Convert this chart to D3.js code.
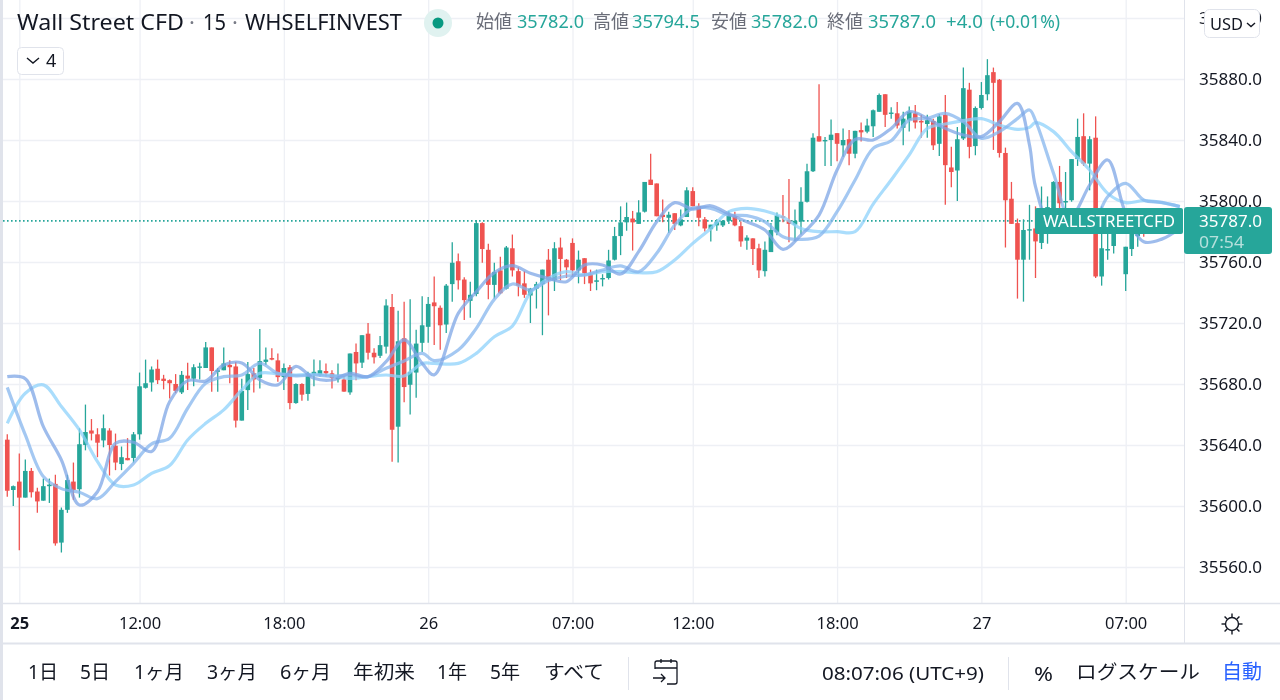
<!DOCTYPE html>
<html lang="ja"><head><meta charset="utf-8">
<script src="https://cdn.jsdelivr.net/npm/d3@7"></script>
<style>
html,body{margin:0;padding:0;background:#fff;overflow:hidden}
svg{display:block;filter:blur(0.45px)}
text{font-family:"Noto Sans","Noto Sans CJK JP",sans-serif}
</style></head><body><svg id="c" width="1280" height="700"></svg>
<script>
const opens=[35643.5,35610.5,35616,35605.5,35623,35609.5,35603.5,35613,35614.5,35576,
35597.5,35616,35611,35640,35649.5,35647,35643,35649.5,35639.5,35627.5,
35631.5,35631.5,35647,35677.5,35681,35690,35683.5,35682.5,35680,35674.5,
35685.5,35683.5,35691,35690.5,35704,35688,35689,35692.5,35691.5,35656,
35676,35687,35684,35694.5,35697,35695.5,35684.5,35691,35667.5,35680,
35673.5,35686.5,35686,35688.5,35687,35683.5,35683,35674.5,35701,35694,
35713,35700.5,35698.5,35704.5,35730.5,35652,35710,35679.5,35687.5,35707,
35717.5,35733.5,35730,35719,35745.5,35760.5,35748.5,35734.5,35739,35785.5,
35768,35745,35754.5,35742.5,35769,35754,35746,35738,35742.5,35745.5,
35761.5,35748,35769.5,35761.5,35772.5,35754.5,35762.5,35752,35747,35749,
35749.5,35761.5,35777,35786,35788.5,35785,35793,35814,35811.5,35791,
35789,35792,35784,35789.5,35806.5,35796.5,35788,35781.5,35784,35784,
35787,35790,35783.5,35774,35775.5,35769,35754,35766.5,35779.5,35790,
35787.5,35784.5,35786.5,35799.5,35819.5,35842.5,35839.5,35840,35844.5,35836.5,
35840.5,35831,35846.5,35845.5,35849,35858.5,35870,35857.5,35857.5,35848,
35853,35857.5,35852.5,35850.5,35852.5,35837.5,35856.5,35822,35820,35841,
35873,35836,35861,35870,35884.5,35879.5,35831.5,35801.5,35785.5,35761.5,
35781,35782,35772.5,35792,35789.5,35812.5,35799,35800.5,35827.5,35842.5,
35824.5,35841.5,35750.5,35767.5,35770.5,35782,35752,35768.5,35777,35783,
35782];
const highs=[35647,35613.5,35634.5,35630.5,35625,35612,35618,35618,35620.5,35599,
35620.5,35628.5,35651,35666.5,35657,35651,35660,35651,35647.5,35639,
35644.5,35648.5,35687.5,35696,35691.5,35696,35686,35683,35686.5,35688.5,
35694,35693,35694,35707.5,35704,35690.5,35704,35695.5,35694.5,35683.5,
35694.5,35690.5,35716,35704,35703.5,35700,35693.5,35692.5,35680.5,35680.5,
35688,35696,35695.5,35693.5,35689,35693.5,35685,35700,35706.5,35712,
35720,35703.5,35711.5,35735.5,35739,35728,35734,35735.5,35715.5,35737.5,
35737,35750.5,35731.5,35745.5,35773,35765.5,35750,35747,35787.5,35786,
35772,35759.5,35763.5,35770.5,35778,35756.5,35754,35743,35747,35755,
35768.5,35773,35776,35762,35775.5,35767.5,35762.5,35755,35755,35752,
35768,35783,35796.5,35799,35793.5,35800.5,35812.5,35831,35811.5,35801,
35793,35792,35794.5,35809,35809,35798.5,35789.5,35784.5,35788,35787.5,
35793.5,35793,35786.5,35777.5,35775.5,35772,35773.5,35785.5,35792.5,35804,
35814.5,35794.5,35809,35824.5,35844.5,35876.5,35842,35853.5,35844.5,35847.5,
35846.5,35846,35851.5,35854,35860,35870.5,35870,35861.5,35865,35858.5,
35862,35863,35856.5,35856.5,35854,35857,35869.5,35835.5,35848.5,35887.5,
35877.5,35862,35878,35893,35887.5,35880,35835,35812.5,35788.5,35788,
35797.5,35796.5,35809.5,35803,35813,35823,35819,35827.5,35854,35857.5,
35842.5,35855.5,35796.5,35789.5,35783,35790,35770,35783,35787.5,35785,
35794.5];
const lows=[35606,35600,35571,35605.5,35605.5,35595.5,35603.5,35602,35574,35569.5,
35595.5,35604,35605.5,35636.5,35643,35632,35638.5,35620,35623.5,35623.5,
35630,35628.5,35643.5,35677,35675,35680,35676.5,35670.5,35674,35673.5,
35676,35678.5,35683,35690.5,35675,35675,35689,35680.5,35651.5,35656,
35663,35674.5,35677,35692.5,35695.5,35681.5,35676,35663.5,35667,35669,
35669,35678.5,35685,35685,35677,35681,35675,35673,35682.5,35690.5,
35696,35693.5,35697,35700,35629,35628.5,35668,35660,35671,35701,
35707,35705.5,35702.5,35713.5,35734,35742,35722,35723.5,35737.5,35759.5,
35735.5,35736,35739,35742,35750.5,35737.5,35736.5,35720,35729.5,35712,
35725,35741,35748,35749.5,35750.5,35746,35745.5,35741,35741.5,35744,
35748.5,35761,35764.5,35780.5,35767.5,35785,35792.5,35810.5,35790,35786,
35779,35781,35783.5,35789.5,35796.5,35783.5,35780,35773.5,35780.5,35783,
35785,35783.5,35770,35768,35758,35749.5,35750.5,35766.5,35777.5,35786,
35773,35773.5,35778,35799,35819,35839,35823,35823,35826,35829,
35823.5,35828,35839,35844.5,35842,35858.5,35848.5,35854,35847.5,35836.5,
35845.5,35847.5,35841.5,35841.5,35833.5,35829.5,35797.5,35809,35800,35840,
35828,35830,35860,35866,35833.5,35828.5,35769.5,35785,35736,35734,
35761.5,35749.5,35768.5,35772,35783,35792,35792,35799.5,35823,35823,
35807,35749.5,35744.5,35761.5,35765.5,35779,35741,35764,35770,35776.5,
35782];
const closes=[35610,35613,35605.5,35623,35609,35603,35613,35614,35575.5,35597.5,
35617,35610.5,35640.5,35648.5,35647.5,35641.5,35651,35640,35628.5,35632,
35630,35647,35678.5,35680.5,35689.5,35682.5,35682,35680.5,35675.5,35686,
35683.5,35691,35691.5,35704,35688.5,35689,35693.5,35691,35656,35675.5,
35686.5,35683,35695,35696,35696,35684.5,35690.5,35667.5,35680,35673,
35687,35688,35689,35687,35684,35684,35675,35700,35693.5,35712,
35700.5,35697.5,35705.5,35731.5,35650,35708,35678,35688,35706.5,35718.5,
35732.5,35731,35718.5,35744.5,35759.5,35748,35735,35738.5,35785.5,35768.5,
35745,35753.5,35739.5,35769.5,35754.5,35744.5,35738.5,35742.5,35745.5,35755,
35748,35769,35762,35756.5,35754.5,35761.5,35752.5,35746,35748,35749.5,
35761,35777,35786,35789.5,35786,35792.5,35812.5,35810.5,35790,35789.5,
35791,35785,35788,35807,35796.5,35789,35782,35784.5,35786.5,35787,
35790.5,35784,35773.5,35776,35768.5,35754.5,35768,35781,35790.5,35789.5,
35785,35787,35799.5,35819.5,35841.5,35839,35840,35843.5,35837.5,35840,
35831,35846,35845,35849.5,35859.5,35869.5,35856.5,35858,35849.5,35854,
35858.5,35851.5,35851.5,35853,35836.5,35855.5,35823.5,35819,35840.5,35874,
35835.5,35861,35869.5,35882.5,35877.5,35831.5,35800.5,35785,35761.5,35781,
35781.5,35773.5,35792,35796,35812.5,35798.5,35800,35827.5,35842,35824.5,
35840.5,35750.5,35769,35768.5,35779,35786,35770,35779,35781,35779,
35787];
const maBars=[0,3,6,9,12,15,18,21,24,27,30,33,36,39,42,45,48,51,
54,57,60,63,66,69,71,75,78,81,84,87,90,93,96,99,102,
105,108,111,114,117,120,123,126,129,132,135,138,141,144,147,
150,153,156,159,162,165,168,170,171,174,177,180,183,186,189,192,195];
const maFast=[35684.8,35683.5,35652,35630.2,35600.7,35609.4,35641.1,35641.8,35635.7,35668.4,35682.2,35682,35692.5,35693.8,35682.7,35679.4,35691.6,35683.7,
35682.6,35687,35684.8,35694.6,35708.9,35693.5,35686,35726.3,35740.5,35753,35757.6,35752.6,35749.3,35747.1,35758,35758,35752.1,
35766.8,35786.4,35798.9,35794.7,35796.9,35791.5,35786.4,35781,35768.3,35777.7,35790.8,35820.3,35840.4,35840,35847.6,
35858.6,35854.2,35847.6,35843.3,35842.2,35852,35864,35836.7,35809.4,35779.9,35788.6,35810.5,35826.9,35791.9,35773.3,35775,35782];
const maMid=[35677.8,35646.6,35619.3,35611.4,35609,35604.8,35616,35628,35640.7,35644.4,35664.1,35680.5,35684.8,35685.9,35693.6,35687,35685.3,35685.9,
35685.2,35685.9,35684.8,35690.3,35695.1,35700.1,35695.3,35702.3,35716.5,35735.5,35745.6,35741.6,35747.8,35750.8,35751.5,35754.8,35757.4,
35753.6,35765.7,35784.2,35795.2,35795.2,35790.8,35790.4,35786.4,35776.6,35774.8,35777,35793,35813.8,35834.5,35839.5,
35853.1,35854.2,35857.5,35852,35841.1,35845.5,35854,35859.7,35852.7,35818.1,35785.3,35782,35802.8,35811.6,35800.7,35799.1,35796.3];
const maSlow=[35654.2,35673.9,35679.4,35665.2,35649.9,35629.1,35613.8,35613.8,35621.4,35626.5,35643.3,35654.2,35663,35676.1,35687,35686.6,35685.9,35686.4,
35685.5,35683.7,35684.8,35685.9,35685.2,35693.5,35693.5,35693.5,35700.1,35711,35718,35739.9,35749.3,35753.7,35751.5,35753.7,35753.7,
35753,35753.6,35761.3,35772.2,35782,35793,35795.2,35793.4,35789.3,35782,35779.9,35779.9,35779.9,35798,35813.8,
35830.2,35847.6,35850.5,35852.7,35854,35849.8,35847,35848.3,35851.4,35845.5,35832.4,35820.3,35805,35798.9,35800.2,35798.9,35796.3];
const priceTicks=[35560,35600,35640,35680,35720,35760,35800,35840,35880,35920];
const timeBars=[2,22,46,70,94,114,138,162,186];
const timeLabels=["25","12:00","18:00","26","07:00","12:00","18:00","27","07:00"];
const rangeLabels=["1日","5日","1ヶ月","3ヶ月","6ヶ月","年初来","1年","5年","すべて"];
const lastPrice=35787;

const svg=d3.select("#c");
const W=1184,T=604,UP="#26a69a",DN="#ef5350",GRID="#eef0f5",EDGE="#e0e3eb",INK="#131722";
const x=d3.scaleLinear().domain([2,186]).range([19.3,1125.7]);
const y=d3.scaleLinear().domain([35560,35880]).range([567,79]);
svg.append("defs").append("clipPath").attr("id","cp").append("rect").attr("x",3).attr("y",0).attr("width",W-3).attr("height",T);

const gx=svg.append("g").attr("transform",`translate(0,${T})`).call(d3.axisTop(x).tickValues(timeBars).tickSize(T).tickFormat(""));
gx.select(".domain").remove(); gx.selectAll("line").attr("stroke",GRID).attr("stroke-width",1.3);
const gy=svg.append("g").attr("transform","translate(3,0)").call(d3.axisRight(y).tickValues(priceTicks).tickSize(W-3).tickFormat(""));
gy.select(".domain").remove(); gy.selectAll("line").attr("stroke",GRID).attr("stroke-width",1.3);

const plot=svg.append("g").attr("clip-path","url(#cp)");
plot.append("line").attr("x1",3).attr("x2",1036).attr("y1",y(lastPrice)).attr("y2",y(lastPrice)).attr("stroke",UP).attr("stroke-dasharray","1.6 2.4").attr("stroke-width",1.6);

const idx=d3.range(opens.length);
const col=i=>closes[i]>=opens[i]?UP:DN;
plot.selectAll("line.w").data(idx).join("line").attr("class","w")
 .attr("x1",i=>x(i)).attr("x2",i=>x(i)).attr("y1",i=>y(highs[i])).attr("y2",i=>y(lows[i]))
 .attr("stroke",col).attr("stroke-width",1.3);
plot.selectAll("rect.b").data(idx).join("rect").attr("class","b")
 .attr("x",i=>x(i)-2.3).attr("width",4.6)
 .attr("y",i=>y(Math.max(opens[i],closes[i])))
 .attr("height",i=>Math.max(1.4,Math.abs(y(opens[i])-y(closes[i]))))
 .attr("fill",col);

const line=d3.line().x((d,i)=>x(maBars[i])).y(d=>y(d)).curve(d3.curveCatmullRom.alpha(0.5));
[[maSlow,"#8dd2fb"],[maMid,"#86b6ee"],[maFast,"#7ea6e6"]].forEach(([s,c])=>{
 plot.append("path").datum(s).attr("d",line).attr("fill","none").attr("stroke",c).attr("stroke-width",3.2).attr("stroke-opacity",.75).attr("stroke-linejoin","round");
});

svg.append("rect").attr("x",1035).attr("y",208).attr("width",148).attr("height",26).attr("rx",2).attr("fill",UP);
svg.append("text").attr("x",1043).attr("y",227).attr("fill","#fff").attr("font-size",17).attr("textLength",132).attr("lengthAdjust","spacingAndGlyphs").text("WALLSTREETCFD");

svg.append("rect").attr("x",0).attr("y",0).attr("width",3).attr("height",700).attr("fill",EDGE);
svg.append("line").attr("x1",3).attr("x2",1280).attr("y1",T-.5).attr("y2",T-.5).attr("stroke",EDGE).attr("stroke-width",1.5);
svg.append("line").attr("x1",3).attr("x2",1280).attr("y1",643.5).attr("y2",643.5).attr("stroke",EDGE).attr("stroke-width",2);
svg.append("line").attr("x1",W+.5).attr("x2",W+.5).attr("y1",0).attr("y2",643).attr("stroke",EDGE);

const ay=svg.append("g").attr("transform",`translate(${W},0)`).call(d3.axisRight(y).tickValues(priceTicks).tickSize(0).tickPadding(15).tickFormat(d=>d3.format(".1f")(d)));
ay.select(".domain").remove();
ay.selectAll("text").attr("font-size",17).attr("fill",INK).attr("textLength",63).attr("lengthAdjust","spacingAndGlyphs");

const ax=svg.append("g").attr("transform",`translate(0,${T})`).call(d3.axisBottom(x).tickValues(timeBars).tickSize(0).tickPadding(13).tickFormat((d,i)=>timeLabels[i]));
ax.select(".domain").remove();
ax.selectAll("text").attr("font-size",16.5).attr("fill",INK).attr("font-weight",(d,i)=>i==0?700:400);

svg.append("rect").attr("x",1184).attr("y",207).attr("width",88).attr("height",47).attr("rx",3).attr("fill",UP);
svg.append("text").attr("x",1199).attr("y",227).attr("fill","#fff").attr("font-size",17).attr("textLength",63).attr("lengthAdjust","spacingAndGlyphs").text("35787.0");
svg.append("text").attr("x",1199).attr("y",248).attr("fill","#b6e0dc").attr("font-size",17).attr("textLength",45).attr("lengthAdjust","spacingAndGlyphs").text("07:54");

const head=(tx,px,c,fs,a,len)=>{const t=svg.append("text").attr("x",px).attr("y",a||30).attr("fill",c).attr("font-size",fs).text(tx);
 if(len)t.attr("textLength",len).attr("lengthAdjust","spacingAndGlyphs");};
head("Wall Street CFD",17,"#131722",22,30,167);
head("·",189,"#787b86",22,30);
head("15",203,"#131722",22,30,23);
head("·",232,"#787b86",22,30);
head("WHSELFINVEST",245,"#131722",22,30,157);
svg.append("circle").attr("cx",438).attr("cy",23).attr("r",14).attr("fill","#e0f2f0");
svg.append("circle").attr("cx",438).attr("cy",23).attr("r",5.5).attr("fill","#089981");
const g1="#6a6d78";
[["始値",476,g1,36],["35782.0",517,UP,67],["高値",593,g1,36],["35794.5",632,UP,68],["安値",711,g1,36],["35782.0",751,UP,67],["終値",827,g1,36],["35787.0",868,UP,68],["+4.0",946,UP,37],["(+0.01%)",990,UP,70]]
 .forEach(d=>head(d[0],d[1],d[2],18,28,d[3]));
svg.append("rect").attr("x",17.5).attr("y",47.5).attr("width",46).attr("height",27).attr("rx",4).attr("fill","#fff").attr("stroke",EDGE);
svg.append("path").attr("d","M27 58l6 5 6-5").attr("fill","none").attr("stroke",INK).attr("stroke-width",1.4);
svg.append("text").attr("x",46).attr("y",67).attr("fill",INK).attr("font-size",18).text("4");
svg.append("rect").attr("x",1204.5).attr("y",9.5).attr("width",55).attr("height",28).attr("rx",5).attr("fill","#fff").attr("stroke",EDGE);
svg.append("text").attr("x",1210).attr("y",30).attr("fill",INK).attr("font-size",17).attr("textLength",33).attr("lengthAdjust","spacingAndGlyphs").text("USD");
svg.append("path").attr("d","M1247 23l4 3.5 4-3.5").attr("fill","none").attr("stroke",INK).attr("stroke-width",1.4);

const sun=svg.append("g").attr("transform","translate(1232,624)").attr("fill","none").attr("stroke",INK).attr("stroke-width",1.4);
sun.append("circle").attr("r",6.5);
[0,45,90,135,180,225,270,315].forEach(a=>sun.append("line").attr("x1",0).attr("x2",0).attr("y1",-7).attr("y2",-10.5).attr("transform",`rotate(${a})`));

const rx=[28,80,134,207,280,353,437,490,544];
const rw=[30,30,50,50,51,62,30,30,60];
svg.selectAll("text.r").data(rangeLabels).join("text").attr("class","r").attr("x",(d,i)=>rx[i]).attr("y",679)
 .attr("font-size",19).attr("fill",INK).attr("textLength",(d,i)=>rw[i]).attr("lengthAdjust","spacingAndGlyphs").text(d=>d);
[[628.5],[1008.5]].forEach(d=>svg.append("line").attr("x1",d[0]).attr("x2",d[0]).attr("y1",657).attr("y2",690).attr("stroke",EDGE));
svg.append("path").attr("d","M655 669v-6a2 2 0 0 1 2-2h18a2 2 0 0 1 2 2v19a2 2 0 0 1-2 2h-8M655 668h22M661 659v4M671 659v4M653 678h12M661 674l4 4-4 4").attr("fill","none").attr("stroke",INK).attr("stroke-width",1.3);
svg.append("text").attr("x",822).attr("y",680).attr("font-size",18).attr("fill",INK).attr("textLength",162).attr("lengthAdjust","spacingAndGlyphs").text("08:07:06 (UTC+9)");
svg.append("text").attr("x",1034).attr("y",681).attr("font-size",20).attr("fill",INK).attr("textLength",19).attr("lengthAdjust","spacingAndGlyphs").text("%");
svg.append("text").attr("x",1076).attr("y",679).attr("font-size",19).attr("fill",INK).attr("textLength",124).attr("lengthAdjust","spacingAndGlyphs").text("ログスケール");
svg.append("text").attr("x",1222).attr("y",679).attr("font-size",20).attr("fill","#2962ff").attr("textLength",40).attr("lengthAdjust","spacingAndGlyphs").text("自動");
</script></body></html>
